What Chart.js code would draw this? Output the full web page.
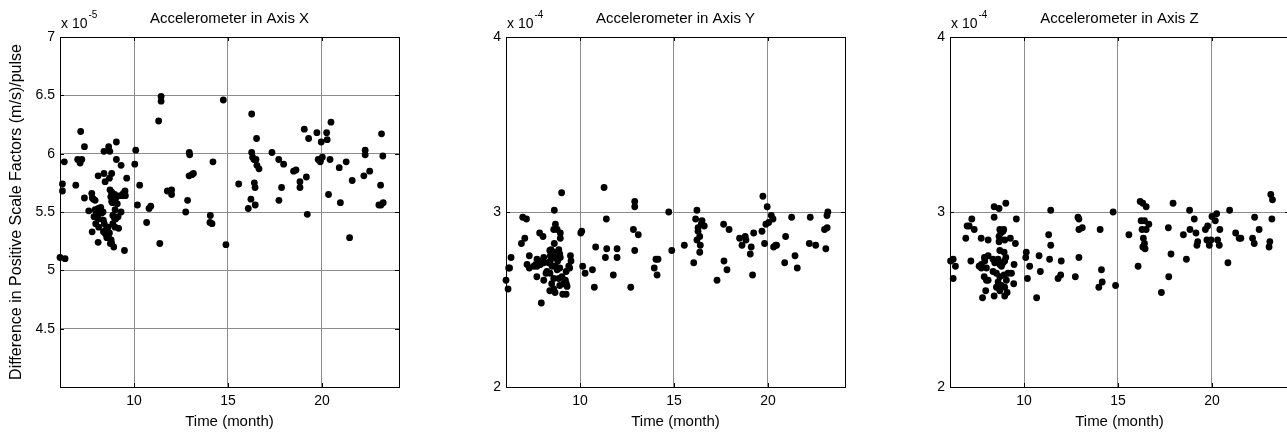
<!DOCTYPE html>
<html>
<head>
<meta charset="utf-8">
<script src="https://cdn.jsdelivr.net/npm/chart.js@4.4.1/dist/chart.umd.min.js"></script>
<style>
  html, body { margin: 0; padding: 0; background: #fff; overflow: hidden; width: 1287px; height: 432px; position: relative; }
  .panel { position: absolute; top: 0; width: 409px; height: 432px; }
</style>
</head>
<body>
<div class="panel" style="left:0px"><canvas id="chartX"></canvas></div>
<div class="panel" style="left:446px"><canvas id="chartY"></canvas></div>
<div class="panel" style="left:890px"><canvas id="chartZ"></canvas></div>
<script>
// time axis (month), shared ticks
const monthTicks = [10, 15, 20];

// Axis X, values in 1e-5 (m/s)/pulse
const monthsX = [
  6.06,6.33,6.19,6.19,6.29,6.90,7.00,7.13,7.22,7.16,
  7.36,7.36,7.59,7.75,7.84,7.93,7.77,7.87,7.93,7.96,
  8.09,8.09,8.12,8.10,8.23,8.26,8.35,8.40,8.40,8.46,
  8.42,8.46,8.49,8.55,8.62,8.69,8.65,8.69,8.71,8.72,
  8.76,8.78,8.74,8.81,8.83,8.85,8.87,8.92,8.97,8.99,
  9.02,9.06,9.06,9.11,9.15,9.18,9.31,9.31,9.38,9.49,
  9.52,9.54,9.61,8.81,8.90,8.99,9.08,9.26,9.43,7.78,
  8.81,8.24,8.01,8.10,8.37,8.95,8.87,8.99,8.55,8.37,
  8.63,8.81,10.04,10.09,10.18,10.30,10.67,10.80,10.89,11.31,
  11.37,11.44,11.44,11.77,12.00,12.00,12.75,12.85,12.93,12.94,
  12.96,13.08,13.16,14.06,14.04,14.15,14.20,14.75,14.89,15.57,
  16.08,16.22,16.26,16.26,16.31,16.38,16.40,16.44,16.45,16.49,
  16.52,16.54,16.65,17.34,17.70,17.71,17.85,17.96,18.49,18.62,
  18.83,18.83,19.06,19.17,19.22,19.29,19.73,19.80,19.91,19.93,
  20.02,19.96,20.25,20.28,20.35,20.43,20.48,20.92,20.98,21.29,
  21.47,21.61,22.23,22.30,22.30,22.54,23.03,23.14,23.26,23.12,
  23.17,23.24
];
const accelX = [
  5.11,5.10,5.74,5.68,5.93,5.73,5.95,5.92,5.95,6.19,
  6.06,5.62,5.51,5.66,5.61,5.60,5.33,5.46,5.52,5.40,
  5.24,5.81,5.37,5.53,5.54,5.49,5.50,6.02,5.83,5.76,
  5.40,5.34,5.31,5.28,5.37,5.32,6.06,5.79,6.02,5.69,
  5.63,5.26,5.23,5.83,5.66,5.58,5.47,5.20,5.65,5.52,
  5.44,6.10,5.95,5.57,5.46,5.36,5.90,5.50,5.64,5.17,
  5.68,5.64,5.79,5.67,5.64,5.60,5.63,5.64,5.66,5.62,
  5.59,5.51,5.49,5.44,5.43,5.45,5.40,5.37,5.36,5.33,
  5.29,5.23,5.91,6.03,5.56,5.73,5.41,5.53,5.55,6.28,
  5.23,6.49,6.45,5.68,5.69,5.65,5.50,5.60,5.81,6.01,
  5.99,5.82,5.83,5.47,5.41,5.40,5.93,6.46,5.22,5.74,
  5.53,5.61,6.34,6.01,5.97,5.95,5.75,5.71,5.56,5.95,
  6.13,5.90,5.87,6.01,5.95,5.60,5.71,5.91,5.85,5.86,
  5.76,5.71,6.21,5.80,5.48,6.13,6.18,5.95,5.93,5.95,
  5.97,6.10,6.18,6.12,5.65,5.95,6.27,5.88,5.58,5.93,
  5.28,5.77,5.81,6.03,5.99,5.85,5.56,5.56,5.58,5.73,
  6.17,5.98
];
const ticksX = [4, 4.5, 5, 5.5, 6, 6.5, 7];

// Axis Y, values in 1e-4 (m/s)/pulse
const monthsY = [
  6.06,6.17,6.20,6.25,6.33,6.88,7.06,6.95,7.15,7.18,
  7.30,7.30,7.54,7.64,7.70,7.85,8.03,7.94,8.07,8.19,
  8.40,8.39,8.42,8.39,8.49,8.63,8.63,8.60,8.78,8.69,
  8.67,8.95,8.95,9.02,9.08,9.26,9.27,9.26,9.49,9.52,
  9.45,8.46,8.60,8.87,8.92,8.42,8.69,8.95,8.81,7.71,
  7.98,8.07,7.71,7.89,8.07,8.33,8.51,9.40,8.69,8.92,
  8.78,8.24,8.60,8.87,9.04,9.22,8.92,9.13,9.31,8.60,
  10.04,10.09,10.14,10.27,10.66,10.76,10.83,11.28,11.35,11.40,
  11.42,11.77,11.97,11.97,12.70,12.84,12.91,12.91,12.91,13.10,
  13.95,14.04,14.15,14.10,14.72,14.88,15.55,16.05,16.22,16.15,
  16.28,16.28,16.22,16.37,16.40,16.37,16.49,16.61,16.45,17.29,
  17.64,17.93,17.66,17.82,18.49,18.62,18.79,18.83,19.06,19.11,
  19.18,19.24,19.68,19.73,19.82,19.89,19.96,20.04,20.18,20.27,
  20.30,20.41,20.46,20.89,20.94,21.26,21.44,21.56,22.25,22.20,
  22.54,23.01,23.15,23.08,23.14,23.19
];
const accelY = [
  2.61,2.56,2.68,2.68,2.74,2.82,2.85,2.97,2.96,2.70,
  2.75,2.68,2.69,2.70,2.63,2.88,2.86,2.48,2.61,2.65,
  2.65,2.78,2.72,2.55,2.59,2.82,3.01,2.90,2.90,2.93,
  2.54,2.88,2.85,3.11,2.53,2.53,2.59,2.66,2.75,2.72,
  2.68,2.785,2.77,2.785,2.76,2.75,2.74,2.74,2.72,2.73,
  2.72,2.74,2.69,2.70,2.71,2.71,2.69,2.69,2.69,2.68,
  2.67,2.66,2.62,2.62,2.63,2.61,2.58,2.59,2.575,2.56,
  2.88,2.89,2.69,2.65,2.67,2.57,2.80,3.14,2.74,2.96,
  2.79,2.64,2.79,2.74,2.57,2.90,3.06,3.03,2.78,2.87,
  2.68,2.73,2.73,2.64,3.00,2.78,2.81,2.71,3.01,2.96,
  2.91,2.89,2.84,2.86,2.81,2.77,2.95,2.92,2.93,2.61,
  2.93,2.90,2.72,2.67,2.85,2.81,2.86,2.84,2.76,2.80,
  2.64,2.88,2.89,3.09,2.82,2.93,3.03,2.94,2.98,2.96,
  2.80,2.81,2.81,2.71,2.86,2.97,2.75,2.68,2.97,2.82,
  2.81,2.90,2.91,2.79,2.98,3.00
];

// Axis Z, values in 1e-4 (m/s)/pulse
const monthsZ = [
  6.09,6.23,6.35,6.23,6.90,6.97,7.08,7.22,7.35,7.17,
  7.61,7.73,7.72,7.79,7.89,7.96,8.09,8.09,8.09,8.41,
  8.67,8.41,8.41,9.03,8.71,8.92,8.67,8.67,8.97,9.27,
  9.54,9.59,9.47,9.33,9.45,8.97,9.10,8.88,8.76,8.71,
  8.94,9.03,7.91,7.73,8.00,8.35,8.44,8.62,8.71,8.80,
  8.88,8.97,7.88,8.00,8.35,8.53,8.71,8.94,9.15,8.62,
  8.80,9.06,8.53,8.71,8.97,10.09,10.12,10.18,10.30,10.67,
  10.80,10.87,11.31,11.36,11.42,11.42,11.81,11.95,11.98,12.73,
  12.87,12.92,12.92,13.10,12.92,13.98,14.16,14.05,14.12,14.74,
  14.87,15.58,16.07,16.18,16.32,16.50,16.23,16.41,16.64,16.28,
  16.50,16.35,16.41,16.32,16.44,17.31,17.68,17.70,17.82,17.93,
  18.48,18.64,18.81,18.83,19.06,19.15,19.24,19.20,19.65,19.77,
  19.73,19.86,19.95,20.00,20.25,20.18,20.30,20.39,20.42,20.85,
  20.94,21.26,21.45,21.54,22.16,22.25,22.27,22.51,23.04,23.08,
  23.13,23.22,23.19
];
const accelZ = [
  2.72,2.73,2.69,2.62,2.85,2.92,2.92,2.96,2.90,2.72,
  2.69,2.68,2.85,2.51,2.74,2.55,2.84,2.61,2.75,3.03,
  3.02,2.97,2.52,3.05,2.90,2.90,2.86,2.83,2.84,2.85,
  2.82,2.96,2.70,2.65,2.59,2.52,2.54,2.89,2.88,2.78,
  2.77,2.74,2.72,2.70,2.68,2.73,2.71,2.73,2.70,2.69,
  2.71,2.72,2.63,2.61,2.66,2.65,2.63,2.64,2.65,2.60,
  2.58,2.61,2.57,2.55,2.57,2.74,2.77,2.62,2.69,2.51,
  2.75,2.66,2.87,2.73,2.81,3.01,2.62,2.64,2.72,2.63,
  2.97,2.96,2.90,2.91,2.74,2.57,2.60,2.90,2.67,3.00,
  2.58,2.87,2.69,3.06,3.05,3.03,2.95,2.95,2.93,2.90,
  2.90,2.85,2.82,2.80,2.79,2.54,2.91,2.63,2.76,3.05,
  2.87,2.73,3.01,2.90,2.96,2.88,2.83,2.81,2.90,2.92,
  2.84,2.81,2.84,2.975,2.99,2.95,2.84,2.81,2.90,2.71,
  3.01,2.88,2.85,2.85,2.85,2.82,2.97,2.90,2.80,2.83,
  3.10,3.07,2.96
];
const ticksYZ = [2, 3, 4];

const FONT = '"Liberation Sans", Arial, Helvetica, sans-serif';
const GRID = '#8c8c8c';

// box, inward ticks, title and the "x 10^n" multiplier, MATLAB style
const matlabFrame = {
  id: 'matlabFrame',
  afterDraw(chart, args, opts) {
    const { ctx, chartArea: a, scales: { x, y } } = chart;
    ctx.save();
    ctx.strokeStyle = '#000';
    ctx.lineWidth = 1;
    ctx.beginPath();
    x.ticks.forEach(t => {
      const px = Math.round(x.getPixelForValue(t.value)) + 0.5;
      ctx.moveTo(px, a.bottom); ctx.lineTo(px, a.bottom - 4);
      ctx.moveTo(px, a.top); ctx.lineTo(px, a.top + 4);
    });
    y.ticks.forEach(t => {
      const py = Math.round(y.getPixelForValue(t.value)) + 0.5;
      ctx.moveTo(a.left, py); ctx.lineTo(a.left + 4, py);
      ctx.moveTo(a.right, py); ctx.lineTo(a.right - 4, py);
    });
    ctx.stroke();
    ctx.strokeRect(Math.round(a.left) + 0.5, Math.round(a.top) + 0.5,
      Math.round(a.right - a.left), Math.round(a.bottom - a.top));

    ctx.fillStyle = '#000';
    ctx.textBaseline = 'alphabetic';
    ctx.textAlign = 'center';
    ctx.font = '15px ' + FONT;
    ctx.fillText(opts.title, (a.left + a.right) / 2, 23);

    ctx.textAlign = 'left';
    ctx.font = '14px ' + FONT;
    ctx.fillText('x 10', a.left + 1, 28);
    const w = ctx.measureText('x 10').width;
    ctx.font = '10px ' + FONT;
    ctx.fillText(opts.exp, a.left + 1 + w + 1, 18);
    ctx.restore();
  }
};

function makeChart(id, months, values, yTicks, title, exp, yTitle) {
  const points = months.map((m, i) => ({ x: m, y: values[i] }));
  const tickFont = { family: FONT, size: 14 };
  return new Chart(document.getElementById(id), {
    type: 'scatter',
    data: {
      datasets: [{
        data: points,
        backgroundColor: '#000',
        borderWidth: 0,
        pointRadius: 3.4,
        pointHoverRadius: 3.4,
        clip: false
      }]
    },
    options: {
      responsive: true,
      maintainAspectRatio: false,
      animation: false,
      events: [],
      layout: { padding: { top: 37, right: 10, left: 0, bottom: 0 } },
      plugins: {
        legend: { display: false },
        tooltip: { enabled: false },
        matlabFrame: { title, exp }
      },
      scales: {
        x: {
          type: 'linear',
          min: 6.06,
          max: 24.1,
          afterBuildTicks: s => { s.ticks = monthTicks.map(v => ({ value: v })); },
          afterFit: s => { s.height = 45; },
          ticks: { color: '#000', font: tickFont, padding: 6, maxRotation: 0, autoSkip: false },
          grid: { color: GRID, lineWidth: 1, drawTicks: false },
          border: { display: false },
          title: { display: true, text: 'Time (month)', color: '#000', font: { family: FONT, size: 15 }, padding: { top: 0, bottom: 1 } }
        },
        y: {
          type: 'linear',
          min: yTicks[0],
          max: yTicks[yTicks.length - 1],
          afterBuildTicks: s => { s.ticks = yTicks.map(v => ({ value: v })); },
          afterFit: s => { s.width = 60; },
          ticks: {
            color: '#000', font: tickFont, padding: 5, autoSkip: false,
            callback: v => (yTitle && v === yTicks[0]) ? '' : String(v)
          },
          grid: { color: GRID, lineWidth: 1, drawTicks: false },
          border: { display: false },
          title: { display: !!yTitle, text: yTitle || '', color: '#000', font: { family: FONT, size: 16 }, padding: { top: 7, bottom: 0 } }
        }
      }
    },
    plugins: [matlabFrame]
  });
}

makeChart('chartX', monthsX, accelX, ticksX, 'Accelerometer in Axis X', '-5',
  'Difference in Positive Scale Factors (m/s)/pulse');
makeChart('chartY', monthsY, accelY, ticksYZ, 'Accelerometer in Axis Y', '-4');
makeChart('chartZ', monthsZ, accelZ, ticksYZ, 'Accelerometer in Axis Z', '-4');
</script>
</body>
</html>
